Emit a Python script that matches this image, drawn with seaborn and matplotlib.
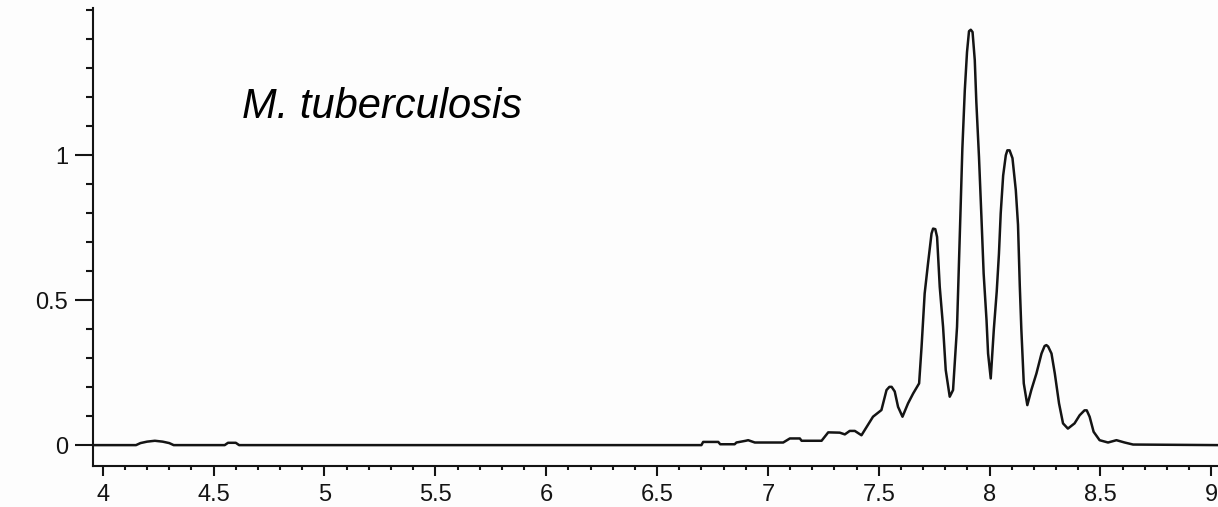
import matplotlib
matplotlib.use("Agg")
import matplotlib.pyplot as plt
from matplotlib.ticker import MultipleLocator, FuncFormatter
import seaborn as sns
import pandas as pd

# Spectrum trace (x position, intensity)
shift = [
    3.956, 4.150, 4.170, 4.200, 4.235, 4.270, 4.300, 4.320,
    4.550, 4.565, 4.600, 4.615,
    6.700, 6.708, 6.776, 6.785, 6.850, 6.858, 6.900, 6.911, 6.941,
    7.069, 7.099, 7.144, 7.152, 7.242, 7.272, 7.324, 7.347, 7.369, 7.392,
    7.422, 7.474, 7.512, 7.535, 7.548, 7.558, 7.572, 7.587, 7.607, 7.632,
    7.655, 7.682, 7.693, 7.707, 7.722, 7.738, 7.745, 7.755, 7.763, 7.775,
    7.790, 7.802, 7.820, 7.835, 7.853, 7.868, 7.877, 7.888, 7.898, 7.907,
    7.915, 7.923, 7.933, 7.940, 7.952, 7.963, 7.973, 7.986, 7.993, 8.005,
    8.019, 8.032, 8.042, 8.050, 8.061, 8.073, 8.080, 8.090, 8.103, 8.118,
    8.128, 8.136, 8.143, 8.154, 8.170, 8.188, 8.211, 8.234, 8.248, 8.256,
    8.264, 8.279, 8.294, 8.313, 8.331, 8.353, 8.383, 8.406, 8.428, 8.438,
    8.451, 8.469, 8.496, 8.534, 8.572, 8.609, 8.647, 9.030,
]
intensity = [
    0.000, 0.000, 0.007, 0.012, 0.015, 0.012, 0.007, 0.000,
    0.000, 0.008, 0.008, 0.000,
    0.000, 0.011, 0.011, 0.003, 0.003, 0.009, 0.015, 0.017, 0.009,
    0.009, 0.023, 0.023, 0.015, 0.015, 0.044, 0.043, 0.037, 0.049, 0.049,
    0.034, 0.098, 0.121, 0.190, 0.201, 0.201, 0.185, 0.132, 0.098, 0.144,
    0.178, 0.213, 0.339, 0.523, 0.626, 0.730, 0.747, 0.745, 0.718, 0.546,
    0.408, 0.259, 0.167, 0.190, 0.408, 0.790, 1.023, 1.224, 1.356, 1.428,
    1.433, 1.425, 1.328, 1.184, 0.994, 0.787, 0.592, 0.431, 0.316, 0.230,
    0.400, 0.530, 0.660, 0.800, 0.930, 1.000, 1.017, 1.017, 0.990, 0.880,
    0.760, 0.550, 0.400, 0.213, 0.138, 0.190, 0.247, 0.316, 0.342, 0.345,
    0.340, 0.316, 0.247, 0.144, 0.075, 0.057, 0.075, 0.103, 0.120, 0.120,
    0.098, 0.046, 0.017, 0.009, 0.017, 0.009, 0.002, 0.000,
]

x_major = [4, 4.5, 5, 5.5, 6, 6.5, 7, 7.5, 8, 8.5, 9]
y_major = [0, 0.5, 1]
species = "M. tuberculosis"

df = pd.DataFrame({"shift": shift, "intensity": intensity})

sns.set_style("ticks")
plt.rcParams["font.family"] = ["Liberation Sans", "DejaVu Sans"]

bg = "#fdfdfd"
ink = "#141414"

fig = plt.figure(figsize=(12.18, 5.07), dpi=100, facecolor=bg)
ax = fig.add_axes([0.07635, 0.08146, 0.92365, 0.9022])
ax.set_facecolor(bg)

sns.lineplot(data=df, x="shift", y="intensity", ax=ax, color=ink,
             linewidth=1.8, estimator=None, sort=False)

ax.set_xlim(3.956, 9.03)
ax.set_ylim(-0.071, 1.507)

ax.set_xticks(x_major)
ax.set_yticks(y_major)
ax.xaxis.set_minor_locator(MultipleLocator(0.1))
ax.yaxis.set_minor_locator(MultipleLocator(0.1))
fmt = FuncFormatter(lambda v, _: f"{v:g}")
ax.xaxis.set_major_formatter(fmt)
ax.yaxis.set_major_formatter(fmt)

for side in ("top", "right"):
    ax.spines[side].set_visible(False)
for side in ("left", "bottom"):
    ax.spines[side].set_linewidth(1.5)
    ax.spines[side].set_color(ink)

ax.tick_params(axis="x", which="major", length=7, width=1.5, pad=6,
               labelsize=17, colors=ink, direction="out")
ax.tick_params(axis="x", which="minor", length=3, width=1.5, colors=ink,
               direction="out")
ax.tick_params(axis="y", which="major", length=13, width=1.5, pad=5,
               labelsize=17, colors=ink, direction="out")
ax.tick_params(axis="y", which="minor", length=5, width=1.5, colors=ink,
               direction="out")

ax.set_xlabel("")
ax.set_ylabel("")

ax.text(4.628, 1.128, species, fontsize=30, style="italic", color="#000000",
        ha="left", va="baseline")

fig.savefig("out.png", dpi=100, facecolor=bg)
